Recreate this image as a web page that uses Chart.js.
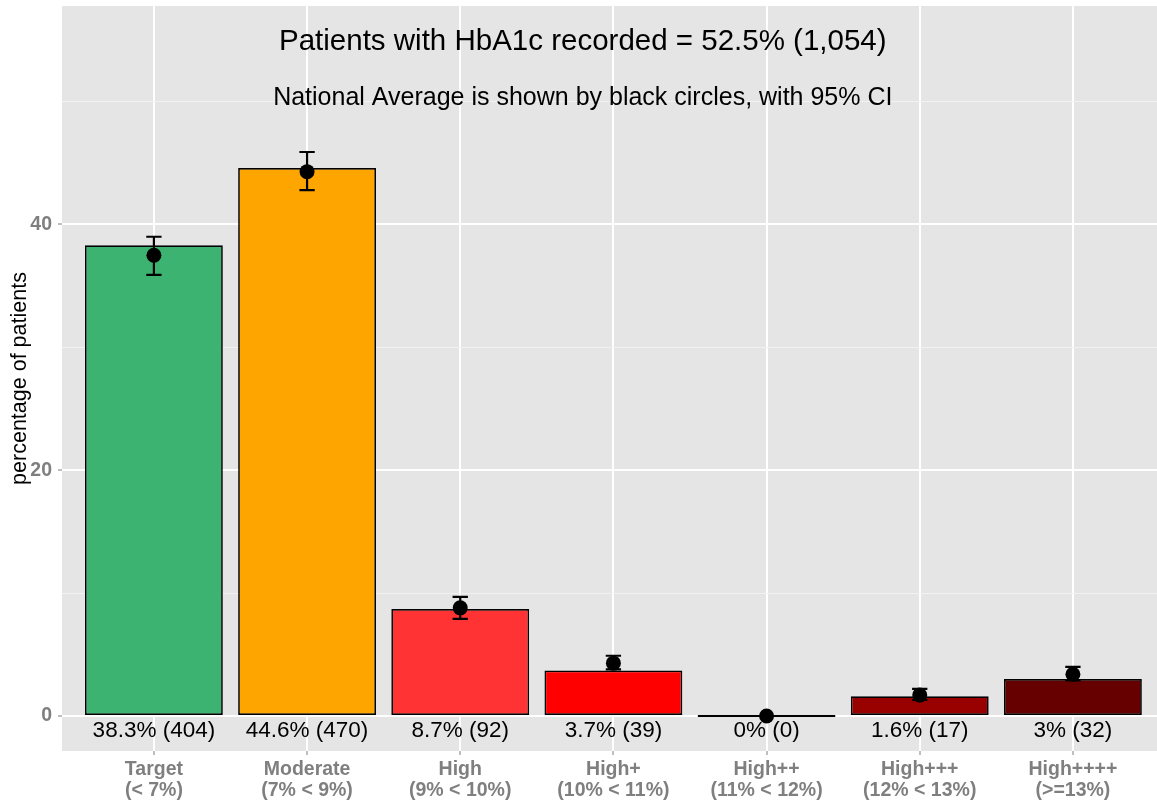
<!DOCTYPE html>
<html>
<head>
<meta charset="utf-8">
<script src="https://cdn.jsdelivr.net/npm/chart.js@4.4.1/dist/chart.umd.min.js"></script>
<style>
  html, body { margin: 0; padding: 0; background: #ffffff; overflow: hidden; }
  #hba1c { display: block; }
</style>
</head>
<body>
<canvas id="hba1c" width="1157" height="803"></canvas>
<script>
// HbA1c 分组 - 数据
const categories = [
    ['Target', '(< 7%)'],
    ['Moderate', '(7% < 9%)'],
    ['High', '(9% < 10%)'],
    ['High+', '(10% < 11%)'],
    ['High++', '(11% < 12%)'],
    ['High+++', '(12% < 13%)'],
    ['High++++', '(>=13%)']
];
const percentValues = [38.3, 44.6, 8.7, 3.7, 0, 1.6, 3.0];
const patientCounts = [404, 470, 92, 39, 0, 17, 32];
const barLabels = ['38.3% (404)', '44.6% (470)', '8.7% (92)', '3.7% (39)', '0% (0)', '1.6% (17)', '3% (32)'];
const nationalAverage = [37.5, 44.3, 8.8, 4.3, 0, 1.7, 3.4];
const nationalLower = [35.9, 42.8, 7.9, 3.8, 0, 1.3, 2.9];
const nationalUpper = [39.0, 45.9, 9.7, 4.9, 0, 2.2, 4.0];
const yMajorTicks = [0, 20, 40];
const yMinorTicks = [10, 30, 50];

const barColors = ['#3CB371', '#FFA500', '#FF3333', '#FF0000', '#CC0000', '#990000', '#660000'];
const titleText = 'Patients with HbA1c recorded = 52.5% (1,054)';
const subtitleText = 'National Average is shown by black circles, with 95% CI';

const FONT = "'Liberation Sans', Arial, Helvetica, sans-serif";
const GREY_TEXT = '#7F7F7F';

// 面板背景
const panelBackground = {
    id: 'panelBackground',
    beforeDraw(chart) {
        const { ctx, chartArea } = chart;
        ctx.save();
        ctx.fillStyle = '#E5E5E5';
        ctx.fillRect(chartArea.left, chartArea.top, chartArea.right - chartArea.left, chartArea.bottom - chartArea.top);
        ctx.restore();
    }
};

// 误差线 (95% CI), 画在圆点下面
const errorBars = {
    id: 'errorBars',
    beforeDatasetDraw(chart, args) {
        if (args.index !== 1) return;
        const { ctx, scales: { x, y } } = chart;
        ctx.save();
        ctx.strokeStyle = '#000000';
        ctx.lineWidth = 2.2;
        nationalAverage.forEach((v, i) => {
            const cx = x.getPixelForValue(i);
            const half = x.getPixelForValue(i + 0.05) - cx;
            const top = y.getPixelForValue(nationalUpper[i]);
            const bot = y.getPixelForValue(nationalLower[i]);
            ctx.beginPath();
            ctx.moveTo(cx, top); ctx.lineTo(cx, bot);
            ctx.moveTo(cx - half, top); ctx.lineTo(cx + half, top);
            ctx.moveTo(cx - half, bot); ctx.lineTo(cx + half, bot);
            ctx.stroke();
        });
        ctx.restore();
    }
};

// 标题和柱子下方的文字
const annotations = {
    id: 'annotations',
    afterDatasetsDraw(chart) {
        const { ctx, scales: { x, y } } = chart;
        ctx.save();
        ctx.fillStyle = '#000000';
        ctx.textAlign = 'center';
        ctx.textBaseline = 'middle';
        ctx.font = '22.5px ' + FONT;
        barLabels.forEach((t, i) => {
            ctx.fillText(t, x.getPixelForValue(i), y.getPixelForValue(-1.2));
        });
        ctx.font = '29.5px ' + FONT;
        ctx.fillText(titleText, x.getPixelForValue(2.8), y.getPixelForValue(54.9));
        ctx.font = '25px ' + FONT;
        ctx.fillText(subtitleText, x.getPixelForValue(2.8), y.getPixelForValue(50.3));
        ctx.restore();
    }
};

const ctx = document.getElementById('hba1c').getContext('2d');
new Chart(ctx, {
    type: 'bar',
    data: {
        datasets: [{
            type: 'bar',
            data: percentValues.map((v, i) => ({ x: i, y: v })),
            backgroundColor: barColors,
            borderColor: '#000000',
            borderWidth: 1.7,
            borderSkipped: false,
            minBarLength: 2,
            barPercentage: 0.9,
            categoryPercentage: 1.0,
            order: 2
        }, {
            type: 'line',
            data: nationalAverage.map((v, i) => ({ x: i, y: v })),
            showLine: false,
            pointRadius: 7.5,
            pointBackgroundColor: '#000000',
            pointBorderWidth: 0,
            order: 1
        }]
    },
    options: {
        responsive: false,
        animation: false,
        devicePixelRatio: 1,
        layout: { autoPadding: false, padding: { top: 6, right: 0, left: 0, bottom: 0 } },
        plugins: {
            legend: { display: false },
            tooltip: { enabled: false }
        },
        scales: {
            x: {
                type: 'linear',
                offset: false,
                min: -0.6,
                max: 6.549,
                afterBuildTicks(scale) {
                    scale.ticks = categories.map((c, i) => ({ value: i }));
                },
                afterFit(scale) {
                    scale.height = 52;
                    scale.paddingLeft = 0;
                    scale.paddingRight = 0;
                },
                ticks: {
                    autoSkip: false,
                    maxRotation: 0,
                    padding: 5,
                    color: GREY_TEXT,
                    font: { family: FONT, size: 19.5, weight: 'bold', lineHeight: 1.03 },
                    callback: (v) => categories[v]
                },
                grid: {
                    offset: false,
                    color: '#FFFFFF',
                    lineWidth: 2,
                    tickLength: 4,
                    tickColor: GREY_TEXT,
                    tickWidth: 1
                },
                border: { display: false }
            },
            y: {
                min: -2.85,
                max: 57.78,
                afterBuildTicks(scale) {
                    scale.ticks = yMajorTicks.concat(yMinorTicks).sort((a, b) => a - b).map(v => ({ value: v }));
                },
                afterFit(scale) {
                    scale.width = 62;
                    scale.paddingTop = 0;
                    scale.paddingBottom = 0;
                },
                ticks: {
                    padding: 6,
                    color: GREY_TEXT,
                    font: { family: FONT, size: 19.5, weight: 'bold' },
                    callback: (v) => yMajorTicks.includes(v) ? String(v) : ''
                },
                grid: {
                    color: (c) => yMajorTicks.includes(c.tick && c.tick.value) ? '#FFFFFF' : '#F2F2F2',
                    lineWidth: (c) => yMajorTicks.includes(c.tick && c.tick.value) ? 2 : 1,
                    tickLength: 4,
                    tickColor: (c) => yMajorTicks.includes(c.tick && c.tick.value) ? GREY_TEXT : 'rgba(0,0,0,0)',
                    tickWidth: 1
                },
                border: { display: false },
                title: {
                    display: true,
                    text: 'percentage of patients',
                    color: '#000000',
                    font: { family: FONT, size: 21.5 },
                    padding: { top: 7, bottom: 0 }
                }
            }
        }
    },
    plugins: [panelBackground, errorBars, annotations]
});
</script>
</body>
</html>
